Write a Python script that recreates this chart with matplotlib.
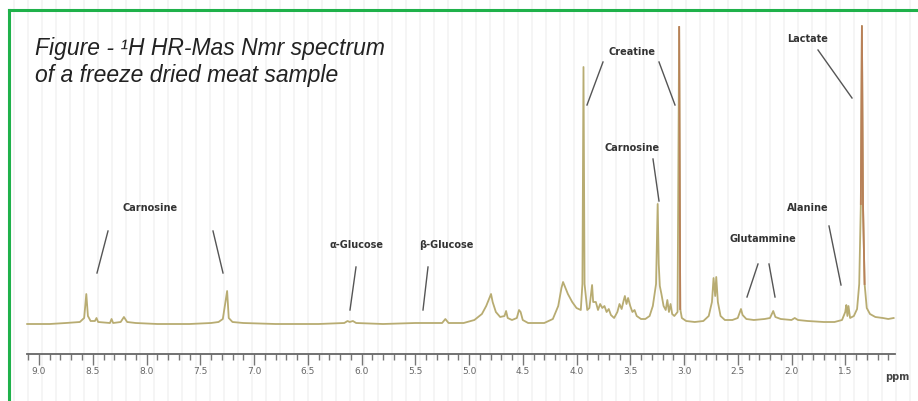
import numpy as np
import matplotlib
matplotlib.use("Agg")
import matplotlib.pyplot as plt
from matplotlib.lines import Line2D

# spectrum trace: chemical shift (ppm) and intensity (px above baseline)
ppm = [9.11, 8.90, 8.75, 8.62, 8.58, 8.56, 8.545, 8.52, 8.48, 8.465, 8.45, 8.34, 8.325, 8.31,
       8.24, 8.21, 8.18, 8.10, 7.90, 7.60, 7.40, 7.33, 7.29, 7.25, 7.235, 7.20, 7.10, 6.80,
       6.40, 6.16, 6.13, 6.11, 6.08, 6.05, 5.80, 5.50, 5.25, 5.22, 5.19, 5.05, 4.95, 4.88,
       4.84, 4.81, 4.795, 4.78, 4.75, 4.71, 4.67, 4.655, 4.64, 4.60, 4.555, 4.535, 4.52, 4.50,
       4.45, 4.30, 4.22, 4.17, 4.14, 4.125, 4.11, 4.08, 4.04, 4.00, 3.96, 3.945, 3.935, 3.925,
       3.90, 3.88, 3.865, 3.855, 3.845, 3.82, 3.80, 3.78, 3.76, 3.74, 3.72, 3.70, 3.68, 3.65,
       3.62, 3.60, 3.58, 3.56, 3.55, 3.535, 3.52, 3.50, 3.48, 3.46, 3.44, 3.40, 3.36, 3.32,
       3.29, 3.26, 3.255, 3.245, 3.235, 3.225, 3.21, 3.19, 3.17, 3.155, 3.14, 3.125, 3.11, 3.09,
       3.06, 3.045, 3.035, 3.02, 2.98, 2.90, 2.82, 2.77, 2.74, 2.725, 2.71, 2.70, 2.685, 2.66,
       2.62, 2.55, 2.50, 2.47, 2.455, 2.42, 2.35, 2.25, 2.20, 2.17, 2.15, 2.10, 2.00, 1.97,
       1.94, 1.85, 1.70, 1.60, 1.53, 1.50, 1.49, 1.48, 1.47, 1.455, 1.42, 1.39, 1.37, 1.355,
       1.345, 1.335, 1.32, 1.30, 1.27, 1.22, 1.15, 1.10, 1.05]
intensity = [0, 0, 1, 2, 6, 30, 8, 3, 3, 6, 2, 1, 5, 1,
             2, 7, 2, 1, 0, 0, 1, 2, 5, 33, 6, 2, 1, 0,
             0, 1, 3, 2, 3, 1, 0, 1, 1, 5, 1, 1, 4, 10,
             18, 26, 30, 22, 12, 7, 8, 13, 6, 4, 6, 14, 12, 4,
             1, 1, 5, 18, 36, 42, 38, 30, 22, 16, 14, 40, 257, 40,
             14, 16, 30, 39, 22, 22, 14, 20, 16, 18, 12, 15, 9, 6,
             12, 20, 15, 24, 28, 20, 26, 18, 12, 14, 8, 5, 5, 8,
             18, 40, 68, 120, 60, 38, 30, 18, 14, 24, 12, 20, 10, 8,
             12, 297, 15, 6, 3, 2, 3, 8, 22, 46, 28, 47, 22, 8,
             4, 4, 6, 15, 9, 5, 4, 5, 6, 13, 7, 5, 4, 6,
             4, 3, 2, 2, 4, 12, 19, 8, 18, 6, 8, 15, 40, 120,
             298, 120, 40, 16, 10, 7, 6, 5, 6]

major_ticks = [9.0, 8.5, 8.0, 7.5, 7.0, 6.5, 6.0, 5.5, 5.0, 4.5, 4.0, 3.5, 3.0, 2.5, 2.0, 1.5]

W, H = 918, 402
fig = plt.figure(figsize=(W / 100, H / 100), dpi=100)
ax = fig.add_axes([0, 0, 1, 1])

# pixel -> data helpers (baseline at y=325, 9.0 ppm at x=39, 107.5 px per ppm)
def px(x, y):
    return 9.0 - (x - 39) / 107.5, 325 - y

x_left, _ = px(0, 0)
x_right, _ = px(W, 0)
ax.set_xlim(x_left, x_right)
ax.set_ylim(325 - H, 325)

# faint background stripes
for xs in range(14, W, 14):
    ax.axvline(px(xs, 0)[0], color="#f4f4f4", lw=1.2, zorder=0)

ax.plot(ppm, intensity, color="#b8ac72", lw=1.3, zorder=3)

# brownish tint on creatine (3.03) and lactate peaks
p = np.array(ppm)
v = np.array(intensity, dtype=float)
win = ((p > 3.03) & (p < 3.06)) | ((p > 1.31) & (p < 1.37))
ax.plot(p, np.where(win, v, np.nan), color="#b98058", lw=1.3, zorder=4)

# ppm scale
for s in ["top", "left", "right"]:
    ax.spines[s].set_visible(False)
ax.spines["bottom"].set_position(("data", -30))
ax.spines["bottom"].set_bounds(9.11, 1.04)
ax.spines["bottom"].set_color("#666666")
ax.spines["bottom"].set_linewidth(1.3)
ax.set_xticks(major_ticks)
ax.set_xticklabels(["%.1f" % t for t in major_ticks])
ax.set_xticks(np.round(np.arange(1.1, 9.15, 0.1), 1), minor=True)
ax.tick_params(axis="x", which="major", length=8, width=1, color="#777777",
               labelsize=6.5, labelcolor="#666666", pad=1)
ax.tick_params(axis="x", which="minor", length=4, width=1, color="#777777")
ax.set_yticks([])
ax.text(*px(897, 377), "ppm", fontsize=7, color="#444444", ha="center", va="center",
        fontweight="bold")

# annotations
lab = dict(fontsize=7, color="#333333", ha="center", va="center", fontweight="bold")
ax.text(*px(150, 208), "Carnosine", **lab)
ax.text(*px(357, 245), "\u03b1-Glucose", **lab)
ax.text(*px(446, 245), "\u03b2-Glucose", **lab)
ax.text(*px(632, 52), "Creatine", **lab)
ax.text(*px(632, 148), "Carnosine", **lab)
ax.text(*px(808, 39), "Lactate", **lab)
ax.text(*px(808, 208), "Alanine", **lab)
ax.text(*px(763, 239), "Glutammine", **lab)

pointers = [((108, 232), (97, 274)), ((213, 232), (223, 274)),
            ((356, 268), (350, 311)), ((428, 268), (423, 311)),
            ((603, 63), (587, 106)), ((659, 63), (675, 106)),
            ((653, 160), (659, 202)), ((818, 51), (852, 99)),
            ((829, 227), (841, 286)), ((758, 265), (747, 298)),
            ((769, 265), (775, 298))]
for a, b in pointers:
    (x0, y0), (x1, y1) = px(*a), px(*b)
    ax.plot([x0, x1], [y0, y1], color="#555555", lw=1.0, zorder=4)

ax.text(*px(35, 62), "Figure - \u00b9H HR-Mas Nmr spectrum\nof a freeze dried meat sample",
        fontsize=16.5, style="italic", family="Liberation Sans", color="#222222",
        ha="left", va="center", linespacing=1.2)

# green frame (left and top)
fig.add_artist(Line2D([9 / W, 9 / W], [0, 1 - 11 / H], color="#1fb14a", lw=2.2,
                      transform=fig.transFigure))
fig.add_artist(Line2D([9 / W, 1], [1 - 11 / H, 1 - 11 / H], color="#1fb14a", lw=2.2,
                      transform=fig.transFigure))

fig.savefig("out.png", dpi=100)
